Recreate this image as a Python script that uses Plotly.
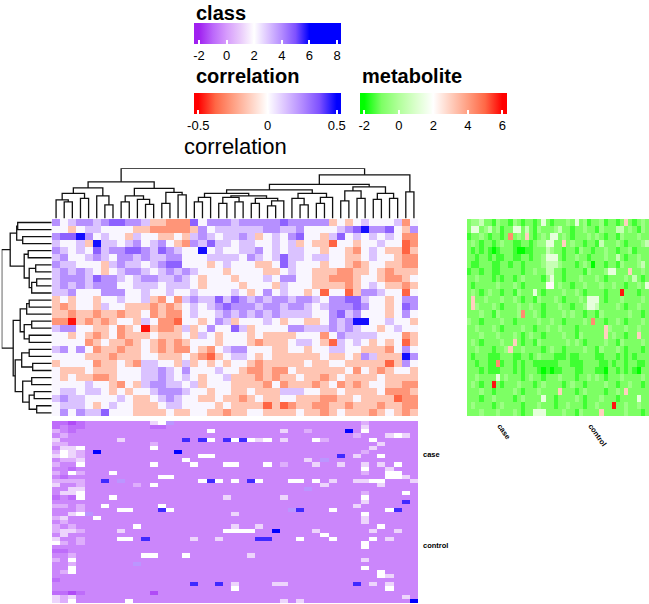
import plotly.graph_objects as go

W, H = 649, 604
FONT = "Liberation Sans"

# correlation heatmap, 28 metabolites x 45 features, one digit per cell (see CORR_LEVELS)
CORR_ROWS = [
    "756776788776443338577767 777787777745456555635",
    "554566555544333334756666 667766755556789778547",
    "788975655465544546765667 645657855468565656533",
    "655649665675675437686656 655656454425545565523",
    "765658677887687655956556 675656655455435654424",
    "675567657767667755566665 765686656655445655433",
    "766555467665678855545655 544586555455434554433",
    "676765456776567676555455 554456554443344543444",
    "677768776567766765455545 556577554433345543345",
    "676767775566656665455554 555465554444345654434",
    "667555777556556556555565 457565545255247765525",
    "454554556556435367668687 676776776577886554577",
    "434554655444343456567877 767767765677787554587",
    "443443443445343356556767 676766665578675554575",
    "331434345546533255457645 556545544576799556554",
    "677554453451433464575586 455557766676765545655",
    "554543453444544454654555 454444555357666655534",
    "555534544345434345554555 434445665426565454524",
    "675753443445434335435677 555445545566554443575",
    "555544434445544454324566 545444444544547644497",
    "455553445436655464545455 434444454455444442475",
    "544454445556676575556554 334335444444535434554",
    "545443345556676565455644 434344544345444454444",
    "555565543546776656455544 443534443453434554433",
    "566566545455677765545544 544466655445444453334",
    "676655556544567655445443 454455444334454444233",
    "566654565544456655554544 442423443344344434433",
    "575766855544445445544344 554444544345444345434",
]
CORR_LEVELS = {"1": -0.48, "2": -0.38, "3": -0.27, "4": -0.15, "5": 0.02,
               "6": 0.13, "7": 0.24, "8": 0.34, "9": 0.48}

# class heatmap, 44 samples x 45 features
CLASS_ROWS = [
    "22123 33333 33567 33333 33333 33333 33333 33343 33333",
    "23223 33333 33223 33333 33333 33333 33333 33353 33333",
    "43233 33333 33333 33336 33333 33353 34333 39363 33333",
    "34333 33333 33333 33333 33333 33333 33333 33433 35653",
    "53333 33353 33333 38386 38686 56353 33643 33336 33333",
    "44333 33333 33433 33333 33333 33333 33333 33333 53333",
    "35563 33333 33633 33333 33333 33333 33333 33335 33333",
    "46543 93333 33333 93333 33333 33333 33333 33343 33333",
    "56543 33333 33333 33366 33333 33333 33333 83533 63333",
    "34453 33333 33333 36333 33333 33333 35373 33333 33333",
    "43363 33333 33633 33633 36633 36343 33533 53353 53633",
    "33233 33333 33333 33333 33333 33333 33333 33363 35333",
    "43643 33633 33333 33333 33333 33333 33333 33343 36633",
    "32333 33333 33366 33333 33333 33333 33333 33333 36653",
    "44443 38373 33333 33368 63638 63336 63635 33556 63335",
    "53343 33333 43633 33333 33333 33333 33353 33333 53333",
    "33553 33333 33333 33333 33333 33333 37333 33333 33333",
    "35563 33333 33333 33333 33333 33333 33333 33343 33363",
    "23263 33633 33333 33333 35333 33353 33333 33363 33333",
    "33333 33333 33333 33333 33333 33333 33333 33353 33383",
    "44343 36333 33363 33333 33333 33333 33333 33533 33333",
    "33343 33366 33386 33333 33333 33337 83336 33333 36833",
    "33567 33333 33333 33333 33533 33333 33333 33363 33333",
    "45333 63333 33333 33333 33333 33333 33333 33353 33333",
    "34333 33333 33333 33333 33333 33333 33333 33353 33333",
    "43433 33333 63333 33333 33533 53333 33333 33333 63333",
    "45543 33353 33333 33333 36666 33933 33533 33335 33533",
    "35333 33333 33333 33333 33333 33333 33363 33333 33333",
    "53343 33366 38333 33533 53333 88333 63336 33336 35333",
    "64343 33333 33333 33333 33333 33333 33333 33363 33333",
    "33333 33333 33333 33333 33333 33333 33333 33363 33333",
    "22333 33333 33333 33333 33333 33333 33333 33333 33333",
    "33433 33333 36633 36333 33335 33333 33333 33333 33333",
    "43633 33333 33333 33333 33333 33333 33333 33353 33333",
    "33433 33333 73333 33333 33333 33333 33333 33333 33333",
    "33633 33333 33333 33333 33333 33333 33333 33363 33333",
    "34633 33333 33333 33333 33333 33333 33333 33333 63333",
    "33333 33333 33333 33333 33333 33333 33333 33333 65333",
    "23333 33333 33333 33333 33333 33333 33333 33333 33333",
    "33333 33333 33333 33833 83533 33553 33333 33835 35333",
    "33333 33333 33333 33333 33633 33333 33333 33333 36333",
    "22123 33333 33133 33333 33333 33333 33333 33333 33333",
    "54533 33333 33333 33333 33333 33333 33333 33333 33353",
    "54633 33336 33333 33333 33333 33353 53333 33333 33339",
]
CLASS_LEVELS = {"0": -2.0, "1": -1.4, "2": -0.9, "3": -0.4, "4": 0.4,
                "5": 1.2, "6": 2.0, "7": 3.8, "8": 5.5, "9": 7.5}

# metabolite heatmap, 28 metabolites x 44 samples
METAB_ROWS = [
    "23342 21322 13212 21252 12223 25231 22312 21272 1232",
    "25523 42312 25524 21322 23422 12232 21322 24423 2132",
    "12232 12212 82327 21232 55232 12223 23212 21322 2322",
    "23212 21232 21122 12335 52272 32212 21422 23212 2234",
    "21212 10122 21001 12224 32212 21322 12232 21223 1222",
    "22122 12112 21122 12235 55212 23221 22232 24212 2322",
    "21122 21122 12212 22234 44322 21232 02212 21322 2342",
    "12212 21122 22212 23224 42212 22213 22235 52227 2232",
    "22322 21212 21232 22213 52212 22322 23212 22232 4212",
    "21222 22322 23212 22226 62322 12232 22322 32212 2325",
    "23212 32212 21322 25212 22232 23212 22212 22922 2122",
    "27223 22232 23212 21322 23212 22325 55212 22322 2232",
    "27322 23212 22322 32212 22322 12235 54222 23212 2322",
    "22232 21322 22382 23212 22232 32212 21322 22223 2212",
    "32212 22232 21222 22322 32212 22232 82212 23212 2232",
    "22322 23212 22232 21223 22322 21222 22273 22232 2322",
    "22232 22322 23212 32212 22232 21322 22272 32212 2722",
    "23212 22232 27212 21322 22223 23212 22232 21322 2232",
    "22322 21223 72232 22212 32212 22232 21322 23212 2212",
    "21222 11122 21122 12322 21112 11222 21122 21212 1222",
    "22122 11812 21212 21111 11222 11122 22112 12212 2112",
    "22212 11122 21212 22101 01122 21122 21102 21212 1022",
    "22322 22523 22212 32212 22322 21223 23212 22322 2232",
    "23212 29212 22322 21232 22212 32212 22232 21223 2212",
    "22232 21222 23212 22322 22722 21232 22212 23272 2222",
    "22212 23222 21232 22252 21222 23212 22322 21222 2522",
    "23222 21232 22212 22322 21223 22212 23222 92232 2322",
    "22232 22322 23212 25552 22232 21322 22722 22232 2212",
]
METAB_LEVELS = {"0": -2.0, "1": -1.5, "2": -1.0, "3": -0.4, "4": 0.5,
                "5": 1.3, "6": 2.1, "7": 3.0, "8": 4.3, "9": 5.8}

# dendrograms: [height, left, right], leaves are positions in the heatmap order
COL_TREE = [1.0,
    [0.73,
        [0.61, [0.50, [0.37, 0, [0.33, 1, 2]], [0.40, 3, 4]], [0.45, 5, [0.27, 6, 7]]],
        [0.60, [0.45, [0.33, 8, 9], [0.38, 10, [0.28, 11, 12]]],
               [0.52, [0.30, 13, 14], [0.47, 15, 16]]]],
    [0.87,
        [0.68,
            [0.57,
                [0.50, [0.42, [0.33, 17, 18], 19],
                       [0.45, [0.42, [0.30, 20, 21], [0.33, 22, 23]],
                              [0.40, [0.30, 24, 25], [0.35, [0.25, 26, 27], 28]]]],
                [0.50, [0.40, 29, [0.27, 30, 31]], [0.42, [0.30, 32, 33], 34]]],
            [0.63, [0.55, [0.35, 35, 36], [0.40, 37, 38]],
                   [0.50, [0.38, 39, 40], [0.40, 41, 42]]]],
        [0.53, 43, 44]]]

ROW_TREE = [1.0,
    [0.83,
        [0.70, [0.68, 0, 1], [0.58, 2, 3]],
        [0.55, [0.47, 4, 5], [0.45, [0.32, 6, 7], [0.40, [0.30, 8, 9], 10]]]],
    [0.77,
        [0.63, [0.50, [0.45, 11, 12], 13], [0.55, [0.40, 14, 15], [0.45, 16, 17]]],
        [0.73, [0.60, [0.45, 18, 19], [0.38, 20, 21]],
               [0.58, [0.40, 22, 23], [0.45, [0.35, 24, 25], [0.30, 26, 27]]]]]]

SAMPLE_TICKS = [7.5, 29.5]
SAMPLE_LABELS = ["case", "control"]

CLASS_TICKS = [-2, 0, 2, 4, 6, 8]
CORR_TICKS = [-0.5, 0, 0.5]
METAB_TICKS = [-2, 0, 2, 4, 6]


def decode(rows, levels):
    return [[levels[ch] for ch in r.replace(" ", "")] for r in rows]


def scale(stops, vmin, vmax):
    out = [[0.0, stops[0][1]]]
    for v, c in stops:
        out.append([(v - vmin) / (vmax - vmin), c])
    out.append([1.0, stops[-1][1]])
    return out


def segments(node):
    if isinstance(node, int):
        return node, 0.0, [], []
    h, left, right = node
    cl, hl, xl, yl = segments(left)
    cr, hr, xr, yr = segments(right)
    xs = xl + xr + [cl, cl, cr, cr, None]
    ys = yl + yr + [hl, h, h, hr, None]
    return (cl + cr) / 2, h, xs, ys


corr = decode(CORR_ROWS, CORR_LEVELS)
cls = decode(CLASS_ROWS, CLASS_LEVELS)
metab = decode(METAB_ROWS, METAB_LEVELS)

CLASS_RANGE = (-2.36, 8.29)
CORR_RANGE = (-0.531, 0.531)
METAB_RANGE = (-2.25, 6.27)

class_scale = scale([(-2, "#a020f0"), (-1, "#bb67fa"), (0, "#d69bfc"), (1, "#e9cafb"),
                     (2, "#ffffff"), (3, "#dcc4ff"), (4, "#b38bff"), (5, "#7e51ff"),
                     (6, "#0000ff")], *CLASS_RANGE)
corr_scale = scale([(-0.5, "#ff0000"), (-0.375, "#ff6846"), (-0.25, "#ff9e81"),
                    (-0.125, "#ffcfbf"), (0, "#ffffff"), (0.125, "#dcc4ff"),
                    (0.25, "#b38bff"), (0.375, "#7e51ff"), (0.5, "#0000ff")], *CORR_RANGE)
metab_scale = scale([(-2, "#00ff00"), (-1, "#7dff64"), (0, "#b1ff9a"), (1, "#dbffcd"),
                     (2, "#ffffff"), (3, "#ffcfbf"), (4, "#ff9e81"), (5, "#ff6846"),
                     (6, "#ff0000")], *METAB_RANGE)


def px_x(p):
    return p / W


def px_y(p):
    return 1 - p / H


def cbar(left, top, ticks):
    return dict(orientation="h", x=px_x(left), xanchor="left", y=px_y(top), yanchor="top",
                len=147, lenmode="pixels", thickness=21, thicknessmode="pixels",
                xpad=0, ypad=0, outlinewidth=0, tickvals=ticks,
                ticktext=[("%g" % t) for t in ticks],
                ticks="inside", ticklen=4, tickwidth=1.5, tickcolor="white",
                tickfont=dict(size=13, family=FONT, color="black"))


fig = go.Figure()

fig.add_trace(go.Heatmap(z=corr, colorscale=corr_scale, zmin=CORR_RANGE[0], zmax=CORR_RANGE[1],
                         colorbar=cbar(194, 92.7, CORR_TICKS), xaxis="x", yaxis="y",
                         hoverinfo="skip"))
fig.add_trace(go.Heatmap(z=cls, colorscale=class_scale, zmin=CLASS_RANGE[0], zmax=CLASS_RANGE[1],
                         colorbar=cbar(194, 23.3, CLASS_TICKS), xaxis="x2", yaxis="y2",
                         hoverinfo="skip"))
fig.add_trace(go.Heatmap(z=metab, colorscale=metab_scale, zmin=METAB_RANGE[0], zmax=METAB_RANGE[1],
                         colorbar=cbar(360, 92.7, METAB_TICKS), xaxis="x3", yaxis="y3",
                         hoverinfo="skip"))

_, _, cx, cy = segments(COL_TREE)
fig.add_trace(go.Scatter(x=cx, y=cy, mode="lines", line=dict(color="#111111", width=1.3),
                         xaxis="x4", yaxis="y4", showlegend=False, hoverinfo="skip"))
_, _, rx, ry = segments(ROW_TREE)
fig.add_trace(go.Scatter(x=ry, y=rx, mode="lines", line=dict(color="#111111", width=1.3),
                         xaxis="x5", yaxis="y5", showlegend=False, hoverinfo="skip"))

ncol = len(corr[0])
nrow = len(corr)
nsamp = len(cls)
hid = dict(visible=False, showgrid=False, zeroline=False)
main_x = [px_x(52), px_x(418)]
main_y = [px_y(416.3), px_y(219)]
label_font = dict(size=7.5, family=FONT, color="black")

fig.update_layout(
    width=W, height=H, autosize=False,
    margin=dict(l=0, r=0, t=0, b=0),
    paper_bgcolor="white", plot_bgcolor="white",
    showlegend=False,
    xaxis=dict(domain=main_x, range=[-0.5, ncol - 0.5], anchor="y", **hid),
    yaxis=dict(domain=main_y, range=[nrow - 0.5, -0.5], anchor="x", **hid),
    xaxis2=dict(domain=main_x, range=[-0.5, ncol - 0.5], anchor="y2", **hid),
    yaxis2=dict(domain=[px_y(603), px_y(421)], range=[nsamp - 0.5, -0.5], anchor="x2",
                side="right", showgrid=False, zeroline=False, showline=False, ticks="",
                tickvals=SAMPLE_TICKS, ticktext=["<b>%s</b>" % s for s in SAMPLE_LABELS],
                tickfont=label_font, ticklabelstandoff=4),
    xaxis3=dict(domain=[px_x(467), 1.0], range=[-0.5, nsamp - 0.5], anchor="y3",
                side="bottom", showgrid=False, zeroline=False, showline=False, ticks="",
                tickvals=SAMPLE_TICKS, ticktext=["<b>%s</b>" % s for s in SAMPLE_LABELS],
                tickangle=55, tickfont=label_font, ticklabelstandoff=3),
    yaxis3=dict(domain=main_y, range=[nrow - 0.5, -0.5], anchor="x3", **hid),
    xaxis4=dict(domain=main_x, range=[-0.5, ncol - 0.5], anchor="y4", **hid),
    yaxis4=dict(domain=[px_y(218.5), px_y(168.3)], range=[0, 1], anchor="x4", **hid),
    xaxis5=dict(domain=[px_x(1.7), px_x(51.7)], range=[1, 0], anchor="y5", **hid),
    yaxis5=dict(domain=main_y, range=[nrow - 0.5, -0.5], anchor="x5", **hid),
)

titles = [("<b>class</b>", 194, 0, 20, "top"), ("<b>correlation</b>", 194, 76, 20, "middle"),
          ("<b>metabolite</b>", 360, 76, 20, "middle"), ("correlation", 182, 147, 22, "middle")]
for text, x, y, size, ya in titles:
    fig.add_annotation(text=text, x=px_x(x), y=px_y(y), xref="paper", yref="paper",
                       xanchor="left", yanchor=ya, showarrow=False,
                       font=dict(size=size, family=FONT, color="black"))

fig.write_html("out.html", config={"displayModeBar": False},
               post_script="document.body.style.margin='0';")
